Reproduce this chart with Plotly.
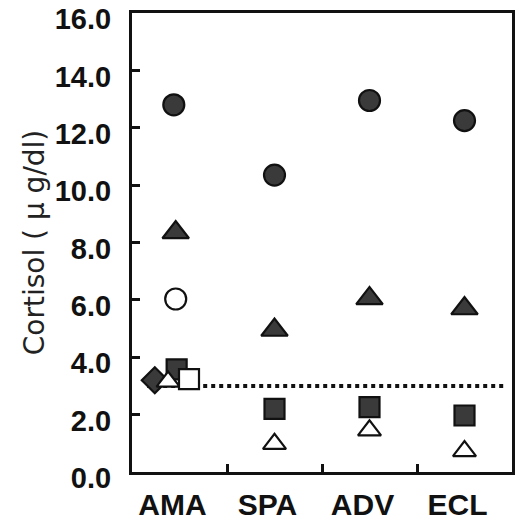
import plotly.graph_objects as go

categories = ["AMA", "SPA", "ADV", "ECL"]

# values (µg/dl)
filled_circle = [12.8, 10.35, 12.95, 12.25]
filled_triangle = [8.35, 4.95, 6.05, 5.7]
open_circle = [6.03, None, None, None]
filled_square = [3.58, 2.2, 2.26, 1.97]
open_triangle = [3.15, 0.98, 1.45, 0.73]
filled_diamond = [3.2, None, None, None]
open_square = [3.24, None, None, None]
threshold = 3.0

y_ticks = [0, 2, 4, 6, 8, 10, 12, 14, 16]

# horizontal jitter within a category (category units)
offsets = {
    "filled_circle": [-0.06, 0, 0, 0],
    "filled_triangle": [-0.04, 0, 0, 0],
    "open_circle": [-0.04, 0, 0, 0],
    "filled_square": [-0.03, 0, 0, 0],
    "open_triangle": [-0.12, 0, 0, 0],
    "filled_diamond": [-0.26, 0, 0, 0],
    "open_square": [0.10, 0, 0, 0],
}

pos = list(range(1, len(categories) + 1))
DARK = "#3a3a3a"
EDGE = "#111111"


def xs(name):
    return [p + o for p, o in zip(pos, offsets[name])]


fig = go.Figure()

fig.add_trace(go.Scatter(
    x=[0.66, 4.41], y=[threshold, threshold], mode="lines",
    line=dict(color=EDGE, width=4, dash="dot"), showlegend=False))

series = [
    ("filled_circle", filled_circle, "circle", DARK, 21),
    ("filled_triangle", filled_triangle, "triangle-up", DARK, 23),
    ("open_circle", open_circle, "circle", "white", 21),
    ("filled_square", filled_square, "square", DARK, 20),
    ("filled_diamond", filled_diamond, "diamond", DARK, 20),
    ("open_triangle", open_triangle, "triangle-up", "white", 20),
    ("open_square", open_square, "square", "white", 20),
]

for name, vals, sym, fill, size in series:
    fig.add_trace(go.Scatter(
        x=xs(name), y=vals, mode="markers", showlegend=False,
        marker=dict(symbol=sym, color=fill, size=size,
                    line=dict(color=EDGE, width=2.2))))

y_tick_font = dict(family="Liberation Sans", size=29, color="#111", weight="bold")
x_tick_font = dict(family="Liberation Sans", size=30, color="#111", weight="bold")

fig.update_layout(
    width=520, height=527,
    margin=dict(l=132, r=8, t=13, b=55),
    paper_bgcolor="white", plot_bgcolor="white",
    showlegend=False,
    xaxis=dict(
        range=[0.5, 4.5], tickvals=pos, ticktext=categories,
        ticks="", showgrid=False, zeroline=False, automargin=False,
        showline=True, linecolor=EDGE, linewidth=3, mirror=True,
        tickfont=x_tick_font,
        ticklabelstandoff=4, ticklabelshift=-7,
        minor=dict(tickvals=[1.5, 2.5, 3.5], ticks="inside", ticklen=8,
                   tickwidth=3, tickcolor=EDGE, showgrid=False),
    ),
    yaxis=dict(
        range=[0, 16], tickvals=y_ticks,
        ticktext=[f"{v:.1f}" for v in y_ticks],
        ticks="inside", ticklen=8, tickwidth=3, tickcolor=EDGE,
        showgrid=False, zeroline=False, automargin=False,
        showline=True, linecolor=EDGE, linewidth=3, mirror=True,
        tickfont=y_tick_font, ticklabeloverflow="allow",
        ticklabelstandoff=12, ticklabelshift=6,
        title=dict(text="Cortisol ( μ g/dl)",
                   font=dict(family="DejaVu Sans", size=28, color="#222"),
                   standoff=2),
    ),
)

# remove the default page margin so the figure sits at the window's corner
fig.write_html("out.html", config={"displayModeBar": False},
               post_script="document.body.style.margin='0';")
